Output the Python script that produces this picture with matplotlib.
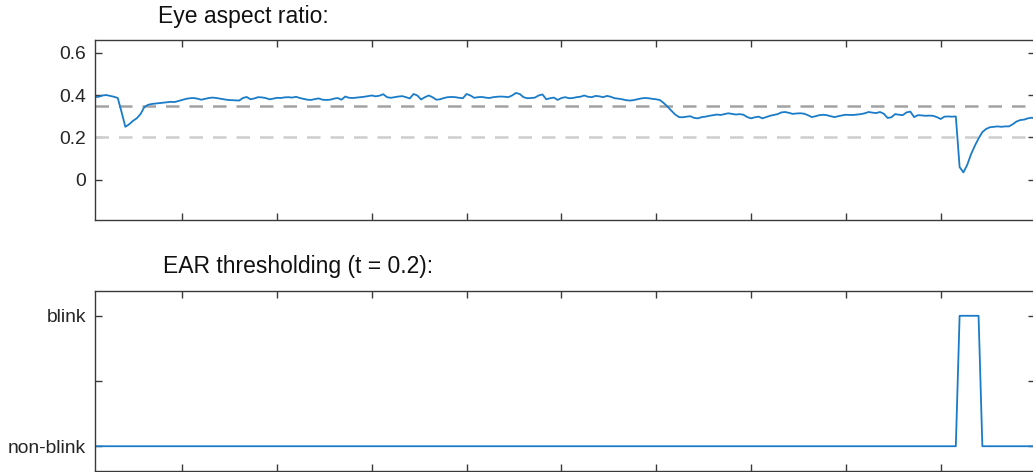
import matplotlib
matplotlib.use('Agg')
import matplotlib.pyplot as plt
import numpy as np

plt.rcParams['font.family'] = ['Liberation Sans', 'DejaVu Sans']

# frame numbers and eye aspect ratio
frames = np.arange(2, 251)
ear = [
    0.390, 0.392, 0.398, 0.400, 0.396, 0.392, 0.386, 0.320, 0.250, 0.262,
    0.278, 0.290, 0.310, 0.343, 0.354, 0.358, 0.360, 0.362, 0.364, 0.366,
    0.368, 0.367, 0.372, 0.377, 0.382, 0.385, 0.386, 0.383, 0.378, 0.382,
    0.386, 0.388, 0.386, 0.383, 0.380, 0.377, 0.376, 0.375, 0.374, 0.386,
    0.391, 0.380, 0.384, 0.390, 0.389, 0.386, 0.380, 0.383, 0.387, 0.386,
    0.389, 0.390, 0.388, 0.392, 0.386, 0.382, 0.378, 0.377, 0.381, 0.384,
    0.378, 0.377, 0.378, 0.383, 0.386, 0.378, 0.393, 0.387, 0.386, 0.388,
    0.390, 0.392, 0.395, 0.398, 0.394, 0.397, 0.404, 0.390, 0.387, 0.390,
    0.393, 0.395, 0.390, 0.384, 0.405, 0.398, 0.379, 0.390, 0.398, 0.390,
    0.378, 0.380, 0.386, 0.390, 0.391, 0.390, 0.387, 0.385, 0.405, 0.398,
    0.387, 0.390, 0.391, 0.388, 0.386, 0.390, 0.392, 0.393, 0.392, 0.390,
    0.398, 0.410, 0.405, 0.390, 0.385, 0.386, 0.388, 0.398, 0.403, 0.380,
    0.385, 0.388, 0.377, 0.386, 0.390, 0.385, 0.386, 0.390, 0.392, 0.398,
    0.392, 0.390, 0.396, 0.394, 0.390, 0.396, 0.392, 0.385, 0.383, 0.380,
    0.376, 0.374, 0.376, 0.380, 0.384, 0.386, 0.385, 0.382, 0.380, 0.376,
    0.362, 0.345, 0.326, 0.308, 0.296, 0.295, 0.298, 0.300, 0.292, 0.290,
    0.296, 0.298, 0.302, 0.305, 0.308, 0.306, 0.310, 0.314, 0.311, 0.308,
    0.310, 0.307, 0.296, 0.290, 0.295, 0.298, 0.290, 0.296, 0.302, 0.306,
    0.310, 0.318, 0.320, 0.316, 0.311, 0.313, 0.314, 0.312, 0.305, 0.296,
    0.300, 0.305, 0.307, 0.305, 0.300, 0.296, 0.300, 0.304, 0.307, 0.306,
    0.306, 0.308, 0.310, 0.314, 0.320, 0.317, 0.315, 0.320, 0.312, 0.292,
    0.295, 0.310, 0.307, 0.305, 0.318, 0.322, 0.296, 0.305, 0.304, 0.302,
    0.303, 0.302, 0.296, 0.287, 0.298, 0.299, 0.298, 0.299, 0.060, 0.035,
    0.070, 0.120, 0.160, 0.195, 0.225, 0.240, 0.248, 0.250, 0.252, 0.250,
    0.252, 0.252, 0.262, 0.275, 0.282, 0.284, 0.290, 0.293, 0.290,
]
upper_line = 0.35
threshold = 0.2
blink = (np.array(ear) < threshold).astype(int)

LINE = '#1a7cc8'
AX = '#3a3a3a'

fig = plt.figure(figsize=(10.33, 4.72), dpi=100)
axTop = fig.add_axes([0.09197, 0.5339, 0.9104, 0.38136])
axBot = fig.add_axes([0.09197, 0.0021, 0.9104, 0.38136])


def style(ax):
    for s in ax.spines.values():
        s.set_color(AX)
        s.set_linewidth(1.0)
    ax.tick_params(direction='in', length=5, width=1.0, color=AX,
                   top=True, right=True, labelsize=13.9, labelcolor='#262626', pad=6.5)
    ax.set_xlim(2, 250)
    ax.set_xticks(np.arange(25, 250, 25))
    ax.set_xticklabels([])


# top: EAR signal
axTop.axhline(upper_line, color='#a3a3a3', lw=1.8, ls=(0, (5.4, 4.0)))
axTop.axhline(threshold, color='#cdcdcd', lw=1.8, ls=(0, (5.4, 4.0)))
axTop.plot(frames, ear, color=LINE, lw=1.3)
axTop.set_ylim(-0.19, 0.66)
axTop.set_yticks([0, 0.2, 0.4, 0.6])
axTop.set_yticklabels(['0', '0.2', '0.4', '0.6'])
style(axTop)

# bottom: thresholded
axBot.plot(frames, blink, color=LINE, lw=1.3)
axBot.set_ylim(-0.19, 1.19)
axBot.set_yticks([0, 0.5, 1])
axBot.set_yticklabels(['non-blink', '', 'blink'])
style(axBot)

fig.text(158 / 1033, 1 - 22.7 / 472, 'Eye aspect ratio:', fontsize=16.5,
         va='baseline', ha='left', color='#111111')
fig.text(163 / 1033, 1 - 273 / 472, 'EAR thresholding (t = 0.2):', fontsize=16.5,
         va='baseline', ha='left', color='#111111')

fig.savefig('out.png', dpi=100)
